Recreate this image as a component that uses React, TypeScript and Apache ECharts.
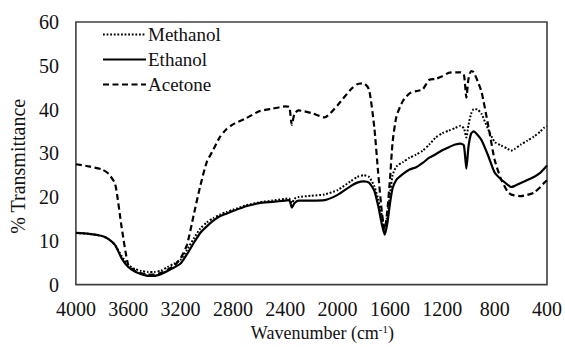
import React, { useEffect, useRef } from "react";
import * as echarts from "echarts";

const wavenumbers = [4000, 3900, 3800, 3750, 3700, 3650, 3600, 3550, 3500, 3450, 3400, 3350, 3300, 3250, 3200, 3150, 3100, 3050, 3000, 2950, 2900, 2850, 2800, 2700, 2600, 2500, 2400, 2370, 2350, 2330, 2300, 2200, 2100, 2000, 1900, 1850, 1800, 1760, 1720, 1690, 1660, 1640, 1620, 1600, 1580, 1550, 1500, 1450, 1400, 1350, 1300, 1250, 1200, 1150, 1100, 1060, 1035, 1016, 1000, 980, 960, 930, 900, 850, 800, 750, 700, 675, 650, 600, 550, 500, 450, 420, 400];

const methanol = [11.8, 11.6, 11.1, 10.4, 9.0, 6.5, 4.5, 3.6, 3.1, 2.9, 2.9, 3.2, 4.0, 4.8, 5.7, 8.0, 10.5, 12.8, 14.2, 15.2, 16.0, 16.6, 17.1, 18.1, 18.8, 19.2, 19.6, 19.7, 18.6, 19.6, 20.0, 20.3, 20.6, 21.6, 23.6, 24.6, 25.0, 24.6, 22.5, 19.5, 15.5, 12.8, 16.0, 20.5, 25.0, 27.0, 28.0, 29.0, 29.7, 30.6, 32.0, 33.6, 34.6, 35.2, 35.8, 36.3, 35.7, 33.6, 36.5, 39.0, 40.1, 40.0, 39.0, 35.5, 32.6, 31.8, 31.0, 30.6, 30.9, 32.0, 32.9, 33.8, 35.0, 35.9, 36.2];

const ethanol = [11.8, 11.6, 11.1, 10.4, 9.0, 6.0, 4.0, 3.0, 2.4, 2.0, 2.0, 2.4, 3.1, 3.9, 4.8, 7.0, 9.5, 11.8, 13.3, 14.6, 15.6, 16.2, 16.8, 17.9, 18.6, 18.9, 19.2, 19.3, 17.6, 18.6, 19.2, 19.2, 19.3, 20.5, 22.5, 23.3, 23.6, 23.3, 21.5, 18.0, 13.5, 11.4, 14.0, 18.5, 22.0, 24.0, 25.3, 26.3, 26.8, 27.8, 29.0, 29.8, 30.7, 31.4, 32.0, 32.2, 31.8, 26.5, 31.5, 34.5, 35.0, 34.2, 33.0, 29.5, 25.6, 24.0, 22.8, 22.3, 22.5, 23.2, 23.9, 24.6, 25.6, 26.5, 27.2];

const acetone = [27.5, 27.0, 26.3, 25.3, 23.0, 13.0, 4.5, 3.2, 2.6, 2.3, 2.3, 2.7, 3.4, 4.3, 6.0, 9.2, 15.9, 22.5, 28.0, 30.8, 33.7, 35.5, 36.6, 38.0, 39.6, 40.2, 40.7, 40.6, 36.5, 39.0, 39.8, 39.2, 38.2, 41.0, 44.6, 45.8, 46.0, 44.6, 36.0, 25.5, 16.0, 12.5, 17.0, 24.0, 32.5, 38.5, 42.0, 43.7, 44.2, 44.6, 46.8, 47.0, 47.6, 48.4, 48.5, 48.5, 48.0, 42.7, 47.0, 48.8, 48.5, 46.5, 44.0, 36.5, 28.5, 24.0, 21.2, 20.6, 20.4, 20.2, 20.5, 21.0, 22.3, 23.3, 23.8];

const seriesNames = ["Methanol", "Ethanol", "Acetone"];

const FONT = "Liberation Serif";

function pairs(vals: number[]) {
  return wavenumbers.map((w, i) => [w, vals[i]]);
}

export default function App() {
  const ref = useRef<HTMLDivElement>(null);
  useEffect(() => {
    if (!ref.current) return;
    const chart = echarts.init(ref.current, undefined, { renderer: "svg" });
    chart.setOption({
      animation: false,
      backgroundColor: "#fff",
      textStyle: { fontFamily: FONT },
      grid: {
        left: 73,
        right: 17,
        top: 22,
        bottom: 60,
        show: true,
        borderColor: "#404040",
        borderWidth: 1.6,
        backgroundColor: "transparent",
      },
      legend: {
        orient: "vertical",
        left: 97,
        top: 20,
        itemWidth: 43,
        itemHeight: 14,
        itemGap: 6,
        data: seriesNames,
        itemStyle: { opacity: 0 },
        textStyle: { fontFamily: FONT, fontSize: 19, color: "#111", padding: [0, 0, 0, -3] },
      },
      xAxis: {
        type: "value",
        min: 400,
        max: 4000,
        interval: 400,
        inverse: true,
        axisLine: { show: false },
        axisTick: { show: false },
        splitLine: { show: false },
        axisLabel: {
          fontFamily: FONT,
          fontSize: 20,
          color: "#111",
          margin: 14,
          formatter: (v: number) => String(v),
        },
        name: "Wavenumber (cm{sup|-1})",
        nameLocation: "middle",
        nameGap: 32,
        nameTextStyle: {
          fontFamily: FONT,
          fontSize: 18,
          color: "#111",
          padding: [0, 0, 0, 22],
          rich: {
            sup: { fontFamily: FONT, fontSize: 11, color: "#111", verticalAlign: "top", padding: [0, 0, 8, 0] },
          },
        },
      },
      yAxis: {
        type: "value",
        min: 0,
        max: 60,
        interval: 10,
        axisLine: { show: false },
        axisTick: { show: false },
        splitLine: { show: false },
        axisLabel: { fontFamily: FONT, fontSize: 20, color: "#111", margin: 17 },
        name: "% Transmittance",
        nameLocation: "middle",
        nameGap: 43,
        nameTextStyle: { fontFamily: FONT, fontSize: 20, color: "#111", padding: [0, 26, 0, 0] },
      },
      series: [
        {
          name: "Methanol",
          type: "line",
          data: pairs(methanol),
          showSymbol: false,
          symbol: "none",
          smooth: 0.2,
          lineStyle: { color: "#000", width: 2, type: [1.8, 1.8] },
          itemStyle: { color: "#000" },
        },
        {
          name: "Ethanol",
          type: "line",
          data: pairs(ethanol),
          showSymbol: false,
          symbol: "none",
          smooth: 0.2,
          lineStyle: { color: "#000", width: 2.2, type: "solid" },
          itemStyle: { color: "#000" },
        },
        {
          name: "Acetone",
          type: "line",
          data: pairs(acetone),
          showSymbol: false,
          symbol: "none",
          smooth: 0.2,
          lineStyle: { color: "#000", width: 2.2, type: [6, 3.5] },
          itemStyle: { color: "#000" },
        },
      ],
    });
    return () => chart.dispose();
  }, []);
  return <div ref={ref} style={{ width: 565, height: 347, position: "absolute", left: 0, top: 0 }} />;
}
